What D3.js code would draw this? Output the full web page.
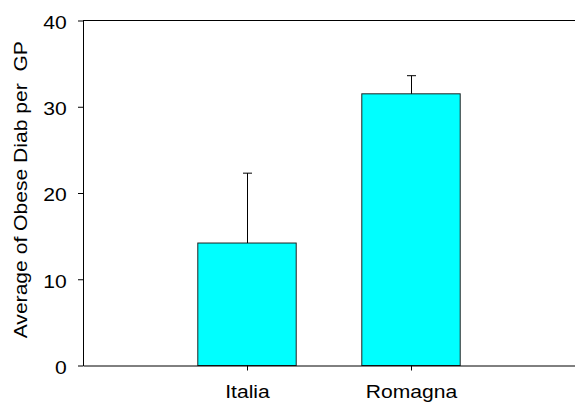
<!DOCTYPE html>
<html>
<head>
<meta charset="utf-8">
<script src="https://cdn.jsdelivr.net/npm/d3@7"></script>
<style>
  body { margin: 0; background: #fff; }
  svg { display: block; font-family: "Liberation Sans", Arial, sans-serif; }
</style>
</head>
<body>
<svg id="chart"></svg>
<script>
// data
const categories = ["Italia", "Romagna"];
const means = [14.2, 31.5];
const errUpper = [22.3, 33.6];
const yTicks = [0, 10, 20, 30, 40];

const W = 575, H = 403;
const margin = {top: 20.5, right: 0, bottom: 37.5, left: 83};
const FS = 18.5;      // font size
const SX = 1.14;      // text looks a bit stretched along its baseline

const svg = d3.select("#chart").attr("width", W).attr("height", H);

const x = d3.scalePoint()
    .domain(categories)
    .range([margin.left, W - margin.right])
    .padding(1);

const y = d3.scaleLinear()
    .domain([0, 40])
    .range([H - margin.bottom, margin.top]);

const barW = x.step() * 0.6;

// bars
svg.append("g")
    .selectAll("rect")
    .data(categories)
    .join("rect")
    .attr("x", d => x(d) - barW / 2)
    .attr("y", (d, i) => y(means[i]))
    .attr("width", barW)
    .attr("height", (d, i) => y(0) - y(means[i]))
    .attr("fill", "#00ffff")
    .attr("stroke", "#222")
    .attr("stroke-width", 1);

// error bars (upper only)
const err = svg.append("g").attr("stroke", "#000").attr("stroke-width", 1);
categories.forEach((c, i) => {
    const cx = Math.round(x(c)) + 0.5;
    err.append("line")
        .attr("x1", cx).attr("x2", cx)
        .attr("y1", y(means[i])).attr("y2", y(errUpper[i]));
    err.append("line")
        .attr("x1", cx - 4.5).attr("x2", cx + 4.5)
        .attr("y1", y(errUpper[i])).attr("y2", y(errUpper[i]));
});

// top frame line
svg.append("line")
    .attr("x1", margin.left).attr("x2", W - margin.right)
    .attr("y1", y(40)).attr("y2", y(40))
    .attr("stroke", "#000");

// y axis
const yAxis = svg.append("g")
    .attr("transform", `translate(${margin.left},0)`)
    .call(d3.axisLeft(y).tickValues(yTicks).tickSize(5).tickSizeOuter(0));
yAxis.select(".domain").attr("stroke", "#000");
yAxis.selectAll(".tick line").attr("stroke", "#000");
yAxis.selectAll("text")
    .attr("font-size", FS)
    .attr("fill", "#000")
    .attr("x", -16.3 / SX)
    .attr("dy", "0.43em")
    .attr("transform", `scale(${SX},1)`);

// x axis
const xAxis = svg.append("g")
    .attr("transform", `translate(0,${y(0)})`)
    .call(d3.axisBottom(x).tickSize(5).tickSizeOuter(0));
xAxis.select(".domain").attr("stroke", "#000");
xAxis.selectAll(".tick line").attr("stroke", "#000");
xAxis.selectAll("text")
    .attr("font-size", FS)
    .attr("fill", "#000")
    .attr("y", 32.7)
    .attr("dy", 0)
    .attr("transform", `scale(${SX},1)`);

// y label
svg.append("text")
    .attr("transform", `translate(26.7,189.7) rotate(-90) scale(${SX},1)`)
    .attr("text-anchor", "middle")
    .attr("font-size", FS)
    .attr("fill", "#000")
    .style("white-space", "pre")
    .text("Average of Obese Diab per  GP");
</script>
</body>
</html>
